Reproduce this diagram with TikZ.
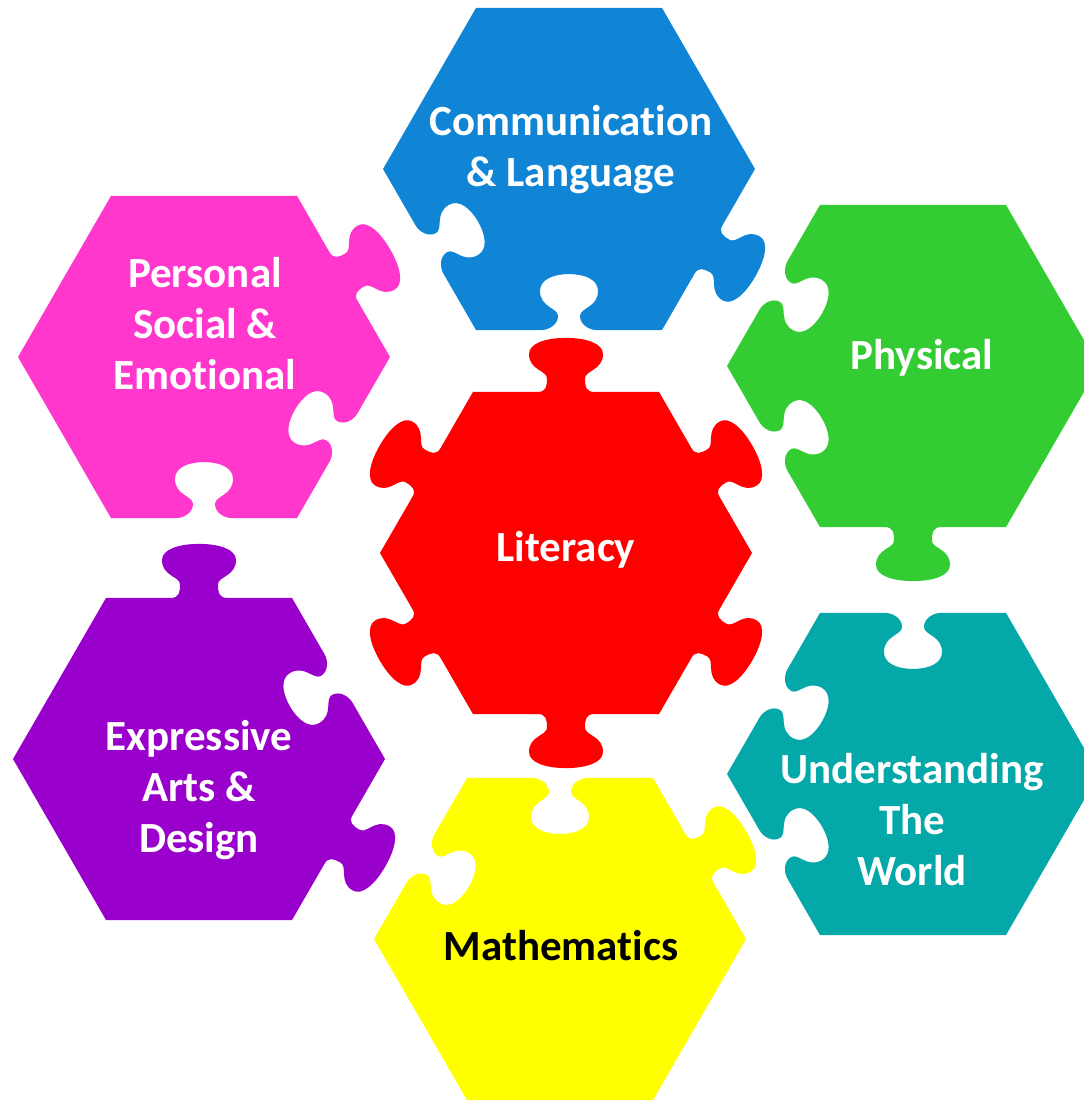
\documentclass[tikz,border=0pt]{standalone}
\usepackage{fontspec}
\setmainfont{Carlito}[Ligatures=NoCommon]
\usepackage{tikz}

\definecolor{litred}{RGB}{255,0,0}
\definecolor{comblue}{RGB}{17,133,213}
\definecolor{phygreen}{RGB}{51,204,51}
\definecolor{worldteal}{RGB}{5,168,168}
\definecolor{mathyellow}{RGB}{255,255,0}
\definecolor{artpurple}{RGB}{153,0,204}
\definecolor{psepink}{RGB}{255,55,205}

\newcommand{\hexpiece}[8]{%
  \fill[#2, shift={#1}] (0:186) \foreach \kr/\kn/\kb/\kh in {-60/#3,0/#4,60/#5,120/#6,180/#7,240/#8} {
    -- ([rotate=\kr]28,161.08)
    .. controls ([rotate=\kr]20,161.08) and ([rotate=\kr]\kn,{161.08+0.1*(\kh)}) .. ([rotate=\kr]\kn,{161.08+0.25*(\kh)})
    .. controls ([rotate=\kr]\kn,{161.08+0.4*(\kh)}) and ([rotate=\kr]\kb,{161.08+0.4*(\kh)}) .. ([rotate=\kr]\kb,{161.08+0.7*(\kh)})
    .. controls ([rotate=\kr]\kb,{161.08+0.9*(\kh)}) and ([rotate=\kr]{0.55*\kb},{161.08+\kh}) .. ([rotate=\kr]0,{161.08+\kh})
    .. controls ([rotate=\kr]{-0.55*\kb},{161.08+\kh}) and ([rotate=\kr]{-\kb},{161.08+0.9*(\kh)}) .. ([rotate=\kr]{-\kb},{161.08+0.7*(\kh)})
    .. controls ([rotate=\kr]{-\kb},{161.08+0.4*(\kh)}) and ([rotate=\kr]{-\kn},{161.08+0.4*(\kh)}) .. ([rotate=\kr]{-\kn},{161.08+0.25*(\kh)})
    .. controls ([rotate=\kr]{-\kn},{161.08+0.1*(\kh)}) and ([rotate=\kr]-20,161.08) .. ([rotate=\kr]-28,161.08)
    -- ([rotate=\kr]-93,161.08)
  } -- cycle;}

\begin{document}
\begin{tikzpicture}[x=1pt, y=1pt,
  lbl/.style={text=white, font=\bfseries\fontsize{43}{51}\selectfont, align=center}]
  \clip (0,0) rectangle (1084,1101);
  \hexpiece{(566,548)}{litred}{19/37/54}{19/37/54}{19/37/54}{19/37/54}{19/37/54}{19/37/54}
  \hexpiece{(569,932)}{comblue}{0/0/0}{0/0/0}{0/0/0}{11/29/-56}{11/29/-56}{19/37/54}
  \hexpiece{(913,735)}{phygreen}{0/0/0}{0/0/0}{11/29/-56}{11/29/-56}{19/37/54}{0/0/0}
  \hexpiece{(913,327)}{worldteal}{0/0/0}{11/29/-56}{11/29/-56}{11/29/-56}{0/0/0}{0/0/0}
  \hexpiece{(560,162)}{mathyellow}{19/37/54}{11/29/-56}{11/29/-56}{0/0/0}{0/0/0}{0/0/0}
  \hexpiece{(199,342)}{artpurple}{11/29/-56}{19/37/54}{0/0/0}{0/0/0}{0/0/0}{19/37/54}
  \hexpiece{(204,744)}{psepink}{19/37/54}{0/0/0}{0/0/0}{0/0/0}{11/29/-56}{11/29/-56}
  \node[lbl] (lit) at (566,551) {Literacy};
  \node[lbl] (comm) at (571,951) {Communication\\\& Language};
  \node[lbl] (phys) at (922,743) {Physical};
  \node[lbl] (world) at (912,281) {Understanding\\The\\World};
  \node[lbl, text=black] (maths) at (561,155) {Mathematics};
  \node[lbl] (arts) at (199,311) {Expressive\\Arts \&\\Design};
  \node[lbl] (pse) at (205,777) {Personal\\Social \&\\Emotional};
\end{tikzpicture}
\end{document}
